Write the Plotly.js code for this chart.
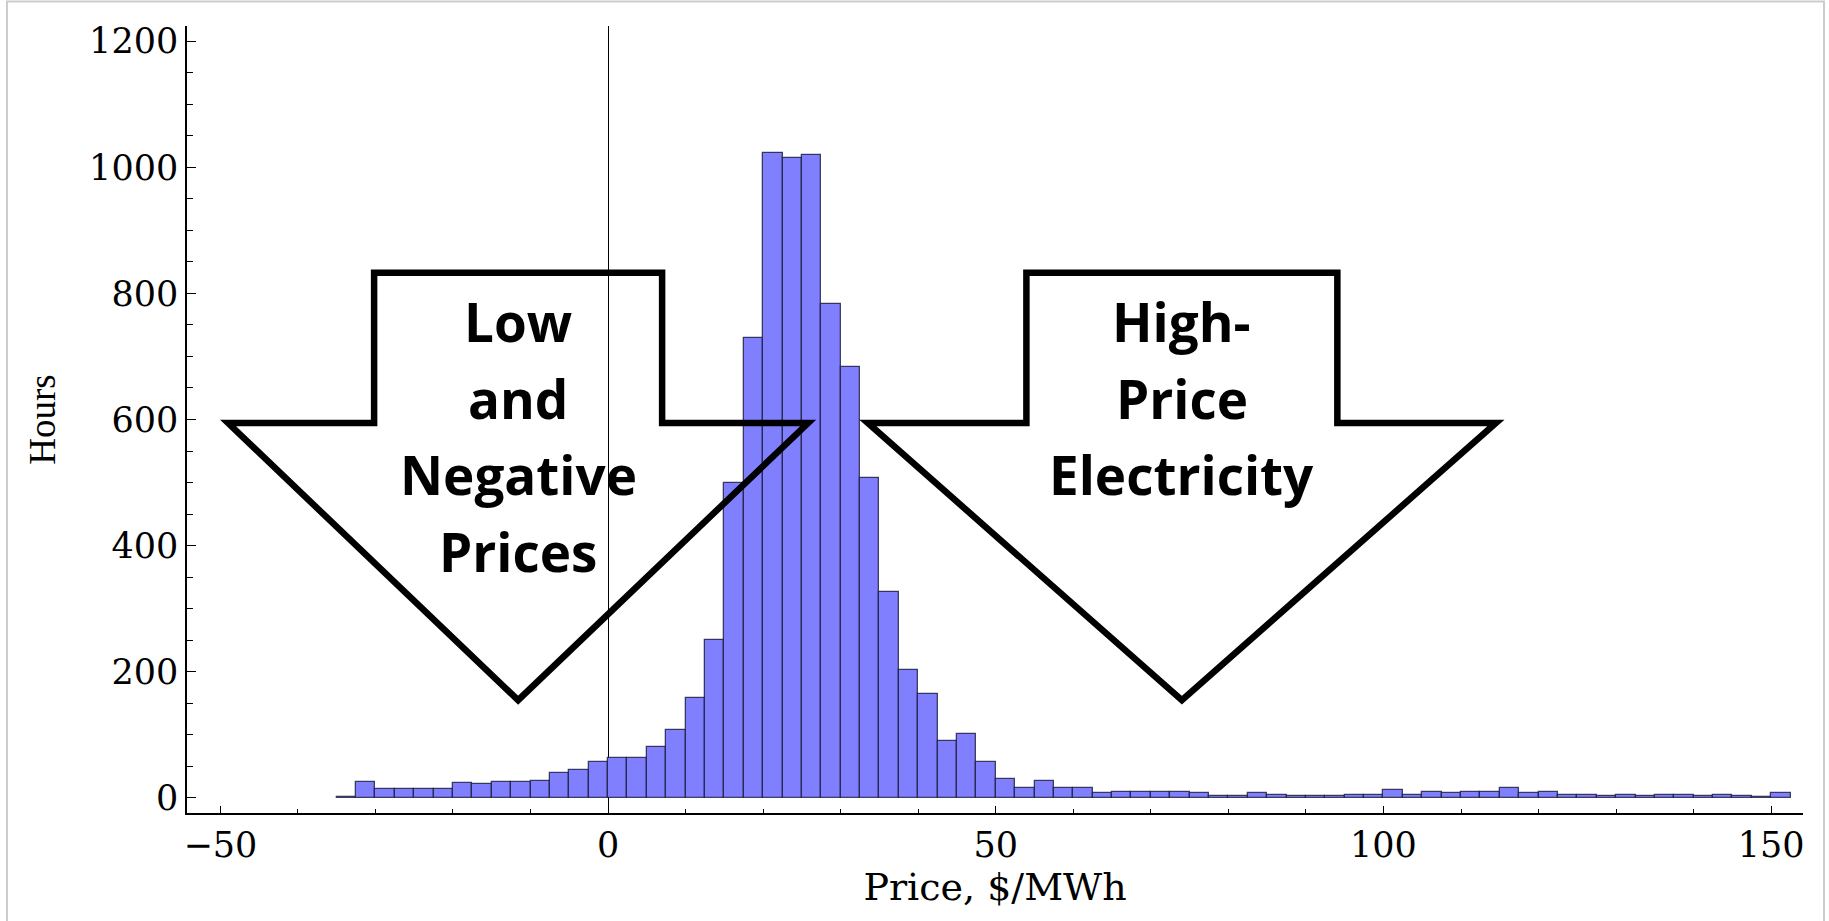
<!DOCTYPE html>
<html>
<head>
<meta charset="utf-8">
<script src="https://cdn.plot.ly/plotly-3.0.1.min.js"></script>
<style>
  html, body { margin: 0; padding: 0; background: #ffffff; }
  #chart { width: 1829px; height: 921px; }
</style>
</head>
<body>
<div id="chart"></div>
<script>
// ---- Data (hours per 2.5 $/MWh price bin) ----
const binStart = -35;      // left edge of the first bin, $/MWh
const binWidth = 2.5;      // bin width, $/MWh
const hours = [
  1, 25, 14, 14, 14, 14, 23, 22, 25, 25,        // -35 .. -12.5
  27, 40, 44, 57, 63, 63, 81, 107, 158, 250,    // -10 .. 12.5
  500, 730, 1023, 1014, 1019, 783, 684, 507, 327, 203, // 15 .. 37.5
  165, 90, 101, 56, 30, 15, 27, 15, 15, 7,      // 40 .. 62.5
  9, 9, 9, 9, 7, 3, 3, 7, 5, 3,                 // 65 .. 87.5
  3, 3, 5, 4, 13, 4, 10, 7, 10, 10,             // 90 .. 112.5
  15, 7, 10, 5, 5, 3, 5, 3, 5, 5,               // 115 .. 137.5
  3, 5, 3, 1, 8                                  // 140 .. 150
];
const binCenters = hours.map((_, i) => binStart + binWidth * (i + 0.5));

// Axis labels
const xTitle = 'Price, $/MWh';
const yTitle = 'Hours';

// Annotation arrows (price-axis centre, half-widths) and their captions
const arrowCenters = [-11.6, 74.0];
const arrowShaftHalf = [18.57, 20.05];
const arrowHeadHalf = [37.4, 40.5];
const arrowTop = 832.5, arrowHeadY = 594.4, arrowTipY = 154.8;
const arrowCaptions = [
  ['Low', 'and', 'Negative', 'Prices'],
  ['High-', 'Price', 'Electricity']
];
const captionLineY = [755.2, 633.7, 512.0, 390.2];

const serif = '"DejaVu Serif", serif';

const trace = {
  type: 'bar',
  x: binCenters,
  y: hours,
  width: binWidth,
  marker: {
    color: 'rgb(128,128,255)',
    line: { color: 'rgba(25,25,60,0.8)', width: 1.3 }
  },
  hoverinfo: 'x+y',
  showlegend: false
};

const shapes = [];
arrowCenters.forEach((c, i) => {
  const hs = arrowShaftHalf[i], hh = arrowHeadHalf[i];
  const pts = [
    [c - hs, arrowTop], [c + hs, arrowTop], [c + hs, arrowHeadY],
    [c + hh, arrowHeadY], [c, arrowTipY], [c - hh, arrowHeadY], [c - hs, arrowHeadY]
  ];
  const path = 'M' + pts.map(p => p[0] + ',' + p[1]).join(' L') + ' Z';
  shapes.push({
    type: 'path', xref: 'x', yref: 'y', path: path,
    line: { color: '#000000', width: 6.5 },
    fillcolor: 'rgba(0,0,0,0)', layer: 'above'
  });
});
// light grey frame around the whole picture
shapes.push({
  type: 'rect', xref: 'paper', yref: 'paper',
  x0: -0.1114, x1: 1.013, y0: -0.3, y1: 1.031,
  line: { color: '#cccccc', width: 2 }, fillcolor: 'rgba(0,0,0,0)', layer: 'below'
});

const annotations = [];
arrowCaptions.forEach((lines, i) => {
  lines.forEach((txt, j) => {
    annotations.push({
      x: arrowCenters[i], y: captionLineY[j], xref: 'x', yref: 'y',
      text: txt, showarrow: false, xanchor: 'center', yanchor: 'middle',
      font: { family: '"Open Sans", sans-serif', size: 53, color: '#000000', weight: 700 }
    });
  });
});

const layout = {
  width: 1829,
  height: 921,
  margin: { l: 187, r: 26, t: 26, b: 108 },
  paper_bgcolor: '#ffffff',
  plot_bgcolor: '#ffffff',
  bargap: 0,
  showlegend: false,
  xaxis: {
    range: [-54.3, 154.1],
    tick0: 0, dtick: 50,
    ticks: 'inside', ticklen: 7, tickwidth: 1.3, tickcolor: '#000000',
    minor: { dtick: 10, tick0: 0, ticks: 'inside', ticklen: 4, tickwidth: 1.1, tickcolor: '#000000', showgrid: false },
    showline: true, linecolor: '#000000', linewidth: 1.6,
    showgrid: false,
    zeroline: true, zerolinecolor: '#000000', zerolinewidth: 1,
    tickfont: { family: serif, size: 35, color: '#000000' },
    title: { text: xTitle, font: { family: serif, size: 38, color: '#000000' }, standoff: 10 },
    fixedrange: true
  },
  yaxis: {
    range: [-24.1, 1224],
    tick0: 0, dtick: 200,
    ticks: 'inside', ticklen: 9, tickwidth: 1.3, tickcolor: '#000000',
    minor: { dtick: 50, tick0: 0, ticks: 'inside', ticklen: 6, tickwidth: 1.1, tickcolor: '#000000', showgrid: false },
    showline: true, linecolor: '#000000', linewidth: 1.6,
    showgrid: false,
    zeroline: false,
    tickfont: { family: serif, size: 35, color: '#000000' },
    title: { text: yTitle, font: { family: '"Liberation Serif", serif', size: 37, color: '#000000' }, standoff: 22 },
    fixedrange: true
  },
  shapes: shapes,
  annotations: annotations
};

Plotly.newPlot('chart', [trace], layout, { displayModeBar: false, responsive: false });
</script>
</body>
</html>
